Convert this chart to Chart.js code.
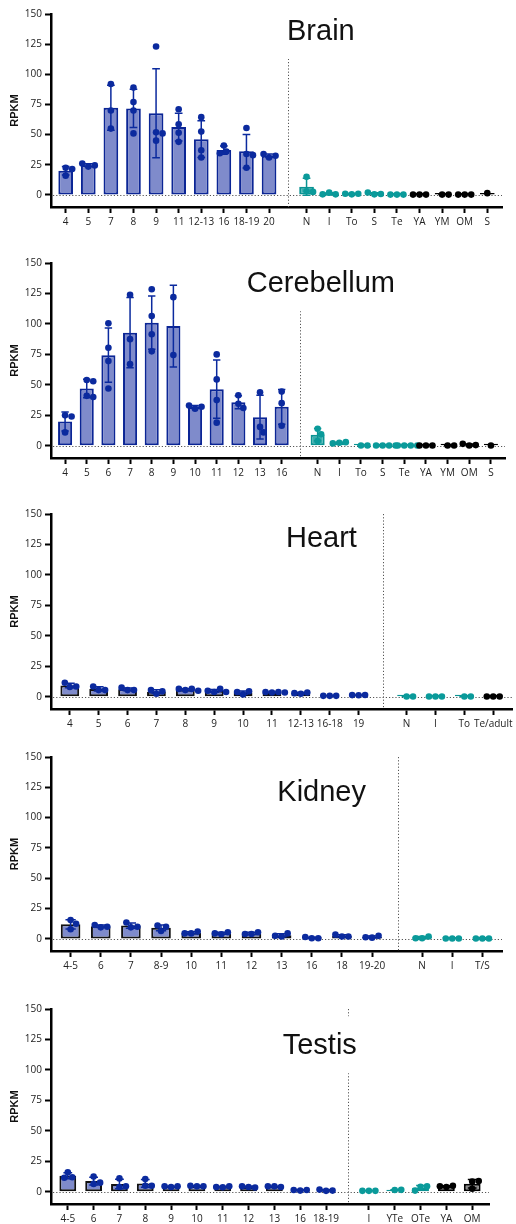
<!DOCTYPE html>
<html>
<head>
<meta charset="utf-8">
<script src="https://cdn.jsdelivr.net/npm/chart.js@4.4.1/dist/chart.umd.min.js"></script>
<style>
  body { margin: 0; background: #fff; width: 516px; height: 1224px; overflow: hidden; }
  .panel { position: absolute; left: 0; }
</style>
</head>
<body>
<div class="panel" style="top:0px"><canvas id="brain" width="516" height="240"></canvas></div>
<div class="panel" style="top:240px"><canvas id="cerebellum" width="516" height="240"></canvas></div>
<div class="panel" style="top:480px"><canvas id="heart" width="516" height="251"></canvas></div>
<div class="panel" style="top:731px"><canvas id="kidney" width="516" height="241"></canvas></div>
<div class="panel" style="top:972px"><canvas id="testis" width="516" height="252"></canvas></div>
<script>
// ---- data (RPKM, individual replicates per stage) ----
const yTicks = [0, 25, 50, 75, 100, 125, 150];

const brainLabels = ['4', '5', '7', '8', '9', '11', '12-13', '16', '18-19', '20'];
const brainValues = [[22.5, 21.5, 16], [23.5, 24.5, 26], [92, 70, 55], [89, 77, 70, 51], [123, 52, 51, 45],
  [71, 58.5, 51.5, 44], [64.5, 52.5, 37, 31], [41, 36, 34.5], [55.5, 34, 33, 22.5], [31, 32.5, 34]];
const brainRightLabels = ['N', 'I', 'To', 'S', 'Te', 'YA', 'YM', 'OM', 'S'];
const brainRightValues = [[15, 3, 2.5], [1.9, 0.5, 0.5], [0.5, 1, 1], [0.5, 0.8, 2], [0.3, 0.3, 0.3],
  [0.3, 0.3, 0.3], [0.3, 0.3], [0.3, 0.3, 0.3], [1.5]];

const cerebLabels = ['4', '5', '6', '7', '8', '9', '10', '11', '12', '13', '16'];
const cerebValues = [[25, 24, 11], [54, 53, 41, 40], [100.5, 80.5, 69.5, 47], [124, 87.5, 67], [128.5, 106.5, 91.5, 77.5],
  [122, 74.5], [30.5, 32, 33], [75, 54.5, 37.5, 19], [41.5, 34.5, 31], [44, 15.5, 11], [44.5, 35, 16.5]];
const cerebRightLabels = ['N', 'I', 'To', 'S', 'Te', 'YA', 'YM', 'OM', 'S'];
const cerebRightValues = [[14, 9.5, 4], [2.5, 3, 2], [0.3, 0.3], [0.3, 0.3, 0.3, 0.3], [0.3, 0.3, 0.3, 0.3],
  [0.3, 0.3, 0.3], [0.3, 0.3], [0.3, 0.6, 1.6], [0.3]];

const heartLabels = ['4', '5', '6', '7', '8', '9', '10', '11', '12-13', '16-18', '19'];
const heartValues = [[8, 8.5, 11.5], [5.5, 5.5, 8.5], [5.5, 5.5, 7.5], [2.5, 4.5, 5.5], [5.5, 6.5, 6.5, 5],
  [4, 6.5, 5, 4], [2, 4.5, 4], [3.5, 4, 4, 3.5], [2.5, 3.5, 3], [0.8, 0.8, 0.8], [1.3, 1.5, 1.4]];
const heartRightLabels = ['N', 'I', 'To', 'Te/adult'];
const heartRightValues = [[0.3, 0.3], [0.3, 0.3, 0.3], [0.3, 0.3], [0.3, 0.3, 0.3]];

const kidneyLabels = ['4-5', '6', '7', '8-9', '10', '11', '12', '13', '16', '18', '19-20'];
const kidneyValues = [[15.5, 8, 12.5], [9.5, 10, 11.5], [9.5, 10, 13.5], [6.5, 10, 11], [4.5, 6, 4.5],
  [3.8, 5.5, 4.5], [4, 5.5, 4], [2, 4.5, 2.5], [0.5, 0.5, 1.5], [2, 2, 3.5], [1, 2.5, 1.3]];
const kidneyRightLabels = ['N', 'I', 'T/S'];
const kidneyRightValues = [[0.5, 2, 0.5], [0.3, 0.3, 0.3], [0.3, 0.3, 0.3]];

const testisLabels = ['4-5', '6', '7', '8', '9', '10', '11', '12', '13', '16', '18-19'];
const testisValues = [[16, 12, 11.5], [12.5, 6.5, 7.5], [11, 4, 4.5], [10.5, 5, 5], [4, 4.5, 4.5],
  [4.5, 4.5, 5], [3.8, 4.5, 4], [4, 3.5, 4.5], [4.5, 4, 4.5], [1, 1.5, 1.5], [0.8, 1, 1.8]];
const testisRightLabels = ['I', 'YTe', 'OTe', 'YA', 'OM'];
const testisRightValues = [[0.8, 0.8, 0.8], [1.5, 1.6], [4.2, 4.5, 1], [4, 5, 4.5], [8.5, 8.8, 2.5]];

// colour group of each right-hand category
const brainRightGroups = ['teal', 'teal', 'teal', 'teal', 'teal', 'black', 'black', 'black', 'black'];
const cerebRightGroups = ['teal', 'teal', 'teal', 'teal', 'teal', 'black', 'black', 'black', 'black'];
const heartRightGroups = ['teal', 'teal', 'teal', 'black'];
const kidneyRightGroups = ['teal', 'teal', 'teal'];
const testisRightGroups = ['teal', 'teal', 'teal', 'black', 'black'];

// ---- style ----
const GAP = 1.66;   // distance between last left and first right category
const PAD = 0.65;   // space between axis ends and outer categories
const SEP = 0.85;   // dotted separator after last left category
const DOT_R = 3.3;
const STYLE = {
  navy: { fill: '#7f8bcb', point: '#0b2a9e', line: '#0b2a9e' },
  teal: { fill: '#3aaeae', border: '#0a9393', point: '#0a9a9a', line: '#0a9393' },
  black: { fill: '#8a8a8a', border: '#000', point: '#000', line: '#000' }
};
const tickFont = { family: "'Open Sans', sans-serif", size: 10 };

const mean = a => a.reduce((s, v) => s + v, 0) / a.length;
const stdev = a => {
  if (a.length < 2) return 0;
  const m = mean(a);
  return Math.sqrt(a.reduce((s, v) => s + (v - m) * (v - m), 0) / (a.length - 1));
};

// spread overlapping dots sideways (in data units)
function swarm(vals, xPx, yPx) {
  const placed = [];
  return vals.map(v => {
    const py = v * yPx;
    let off = 0;
    for (let k = 0; k < 120; k++) {
      const c = k === 0 ? 0 : (k % 2 ? 1 : -1) * Math.ceil(k / 2) * 0.5;
      const ok = placed.every(p => Math.hypot(p.x - c, p.y - py) >= DOT_R * 2 - 0.2);
      if (ok) { off = c; break; }
    }
    placed.push({ x: off, y: py });
    return off / xPx;
  });
}

function makePanel(cfg) {
  const nL = cfg.leftLabels.length;
  const xs = [], labels = [], groups = [], kinds = [];
  cfg.leftLabels.forEach((l, i) => { xs.push(i); labels.push(l); groups.push(cfg.leftValues[i]); kinds.push('navy'); });
  cfg.rightLabels.forEach((l, j) => {
    xs.push(nL - 1 + GAP + j); labels.push(l); groups.push(cfg.rightValues[j]); kinds.push(cfg.rightGroups[j]);
  });
  const xMin = -PAD, xMax = xs[xs.length - 1] + PAD;
  const xPx = (cfg.areaRight - 51) / (xMax - xMin);
  const yPx = (cfg.areaBottom - cfg.areaTop) / 160;

  const points = [], pointColours = [];
  groups.forEach((g, i) => {
    const offs = swarm(g, xPx, yPx);
    g.forEach((v, k) => { points.push({ x: xs[i] + offs[k], y: v }); pointColours.push(STYLE[kinds[i]].point); });
  });

  const panelDecor = {
    id: 'decor',
    beforeDatasetsDraw(chart) {
      const { ctx, chartArea: a, scales: { x, y } } = chart;
      ctx.save();
      ctx.strokeStyle = '#555';
      ctx.lineWidth = 1;
      ctx.setLineDash([1.2, 2]);
      const y0 = Math.round(y.getPixelForValue(0)) + 0.5;
      ctx.beginPath(); ctx.moveTo(a.left + 2, y0); ctx.lineTo(a.right, y0); ctx.stroke();
      const sx = Math.round(x.getPixelForValue(nL - 1 + SEP)) + 0.5;
      ctx.beginPath(); ctx.moveTo(sx, a.top); ctx.lineTo(sx, a.bottom); ctx.stroke();
      ctx.restore();
    },
    afterDatasetDraw(chart, args) {
      if (args.index !== 0) return;
      const { ctx, scales: { x, y } } = chart;
      ctx.save();
      ctx.lineWidth = 1.5;
      groups.forEach((g, i) => {
        if (g.length < 2) return;
        const m = mean(g), sd = stdev(g);
        const px = x.getPixelForValue(xs[i]);
        const t = y.getPixelForValue(m + sd), b = y.getPixelForValue(m - sd);
        const cap = xPx * 0.17;
        ctx.strokeStyle = STYLE[kinds[i]].line;
        ctx.beginPath();
        ctx.moveTo(px, t); ctx.lineTo(px, b);
        ctx.moveTo(px - cap, t); ctx.lineTo(px + cap, t);
        ctx.moveTo(px - cap, b); ctx.lineTo(px + cap, b);
        ctx.stroke();
      });
      ctx.restore();
    },
    afterDraw(chart) {
      const ctx = chart.ctx;
      ctx.save();
      ctx.font = "29px 'Liberation Sans', Arial, sans-serif";
      const w = ctx.measureText(cfg.title).width;
      const base = cfg.titleY - cfg.top;
      ctx.fillStyle = '#fff';
      ctx.fillRect(cfg.titleX - 2, base - 38, w + 4, 57);
      ctx.fillStyle = '#111';
      ctx.textBaseline = 'alphabetic';
      ctx.fillText(cfg.title, cfg.titleX, base);
      ctx.restore();
    }
  };

  new Chart(document.getElementById(cfg.id), {
    type: 'bar',
    data: {
      datasets: [
        {
          type: 'bar',
          data: xs.map((x, i) => ({ x, y: mean(groups[i]) })),
          backgroundColor: kinds.map(k => STYLE[k].fill),
          borderColor: kinds.map(k => k === 'navy' ? cfg.barBorder : STYLE[k].border),
          borderWidth: 2,
          borderSkipped: false,
          minBarLength: 2,
          categoryPercentage: 1,
          barPercentage: 0.65,
          order: 2
        },
        {
          type: 'scatter',
          data: points,
          backgroundColor: pointColours,
          borderWidth: 0,
          pointRadius: DOT_R,
          order: 1
        }
      ]
    },
    options: {
      responsive: false,
      animation: false,
      layout: { padding: { top: cfg.areaTop - cfg.top, right: 516 - cfg.areaRight, left: 0, bottom: 0 } },
      plugins: { legend: { display: false }, tooltip: { enabled: false } },
      scales: {
        x: {
          type: 'linear', min: xMin, max: xMax, offset: false,
          afterBuildTicks: s => { s.ticks = xs.map(v => ({ value: v })); },
          afterFit: s => { s.height = cfg.top + cfg.height - cfg.areaBottom; s.paddingLeft = 0; s.paddingRight = 0; },
          ticks: { callback: (v, i) => labels[i], autoSkip: false, maxRotation: 0, minRotation: 0, padding: 3, color: '#222', font: tickFont },
          grid: { offset: false, drawOnChartArea: false, drawTicks: true, tickLength: 6, tickColor: '#000', tickWidth: 2 },
          border: { display: true, color: '#000', width: 2.5 }
        },
        y: {
          min: -10, max: 150,
          afterBuildTicks: s => { s.ticks = yTicks.map(v => ({ value: v })); },
          afterFit: s => { s.width = 51; s.paddingTop = 0; s.paddingBottom = 0; },
          ticks: { padding: 3, color: '#222', font: tickFont },
          grid: { drawOnChartArea: false, drawTicks: true, tickLength: 6, tickColor: '#000', tickWidth: 2 },
          border: { display: true, color: '#000', width: 2.5 },
          title: { display: true, text: 'RPKM', color: '#111', padding: { top: 8, bottom: 0 },
                   font: { family: "'Liberation Sans', Arial, sans-serif", size: 11, weight: 'bold' } }
        }
      }
    },
    plugins: [panelDecor]
  });
}

makePanel({ id: 'brain', title: 'Brain', top: 0, height: 240, areaTop: 14, areaBottom: 207, areaRight: 502,
  titleX: 287, titleY: 40, barBorder: '#0b2595',
  leftLabels: brainLabels, leftValues: brainValues, rightLabels: brainRightLabels, rightValues: brainRightValues, rightGroups: brainRightGroups });
makePanel({ id: 'cerebellum', title: 'Cerebellum', top: 240, height: 240, areaTop: 263, areaBottom: 458, areaRight: 505,
  titleX: 246.7, titleY: 292.3, barBorder: '#0b2595',
  leftLabels: cerebLabels, leftValues: cerebValues, rightLabels: cerebRightLabels, rightValues: cerebRightValues, rightGroups: cerebRightGroups });
makePanel({ id: 'heart', title: 'Heart', top: 480, height: 251, areaTop: 514, areaBottom: 709, areaRight: 516,
  titleX: 286, titleY: 546.7, barBorder: '#111',
  leftLabels: heartLabels, leftValues: heartValues, rightLabels: heartRightLabels, rightValues: heartRightValues, rightGroups: heartRightGroups });
makePanel({ id: 'kidney', title: 'Kidney', top: 731, height: 241, areaTop: 757, areaBottom: 951, areaRight: 502,
  titleX: 277.3, titleY: 800.7, barBorder: '#111',
  leftLabels: kidneyLabels, leftValues: kidneyValues, rightLabels: kidneyRightLabels, rightValues: kidneyRightValues, rightGroups: kidneyRightGroups });
makePanel({ id: 'testis', title: 'Testis', top: 972, height: 252, areaTop: 1009, areaBottom: 1204, areaRight: 489,
  titleX: 282.7, titleY: 1054.3, barBorder: '#111',
  leftLabels: testisLabels, leftValues: testisValues, rightLabels: testisRightLabels, rightValues: testisRightValues, rightGroups: testisRightGroups });
</script>
</body>
</html>
